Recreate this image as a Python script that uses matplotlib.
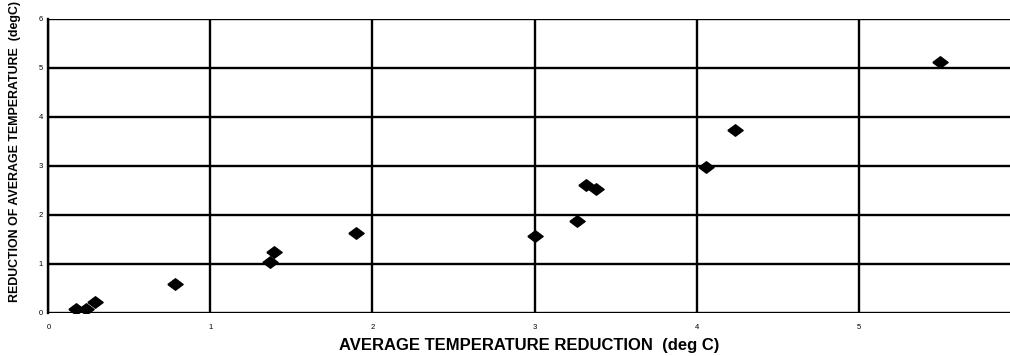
import numpy as np
import matplotlib.pyplot as plt

# values
avg_reduction = [0.17, 0.23, 0.29, 0.78, 1.37, 1.39, 1.90, 3.00,
                 3.26, 3.32, 3.38, 4.06, 4.24, 5.50]
reduction_of_avg = [0.07, 0.07, 0.22, 0.58, 1.03, 1.24, 1.64, 1.57,
                    1.87, 2.60, 2.53, 2.98, 3.74, 5.12]
x_ticks = [0, 1, 2, 3, 4, 5]
y_ticks = [0, 1, 2, 3, 4, 5, 6]

plt.rcParams["font.family"] = ["Liberation Sans", "DejaVu Sans"]

fig = plt.figure(figsize=(10.1, 3.56), dpi=100)
ax = fig.add_axes([0.048, 0.121, 0.952, 0.826])

# wide diamond like the scanned figure
diamond = [(-1, 0), (0, 0.75), (1, 0), (0, -0.75), (-1, 0)]
ax.plot(avg_reduction, reduction_of_avg, linestyle="none", marker=diamond,
        color="black", markersize=11, zorder=3)

ax.set_xlim(0, 5.935)
ax.set_ylim(0, 6)
ax.set_xticks(x_ticks)
ax.set_yticks(y_ticks)
ax.tick_params(axis="y", length=0, labelsize=5.5, pad=4)
ax.tick_params(axis="x", length=0, labelsize=5.5, pad=8)
ax.grid(True, color="black", linewidth=1.7)
ax.set_axisbelow(True)
for side in ["top", "right", "bottom"]:
    ax.spines[side].set_visible(False)
ax.spines["left"].set_linewidth(1.7)

ax.set_xlabel("AVERAGE TEMPERATURE REDUCTION  (deg C)",
              fontsize=12, fontweight="bold", labelpad=5)
ax.set_ylabel("REDUCTION OF AVERAGE TEMPERATURE  (degC)",
              fontsize=8.9, fontweight="bold")
ax.yaxis.set_label_coords(-0.029, 0.55)

fig.savefig("out.png", dpi=100)
